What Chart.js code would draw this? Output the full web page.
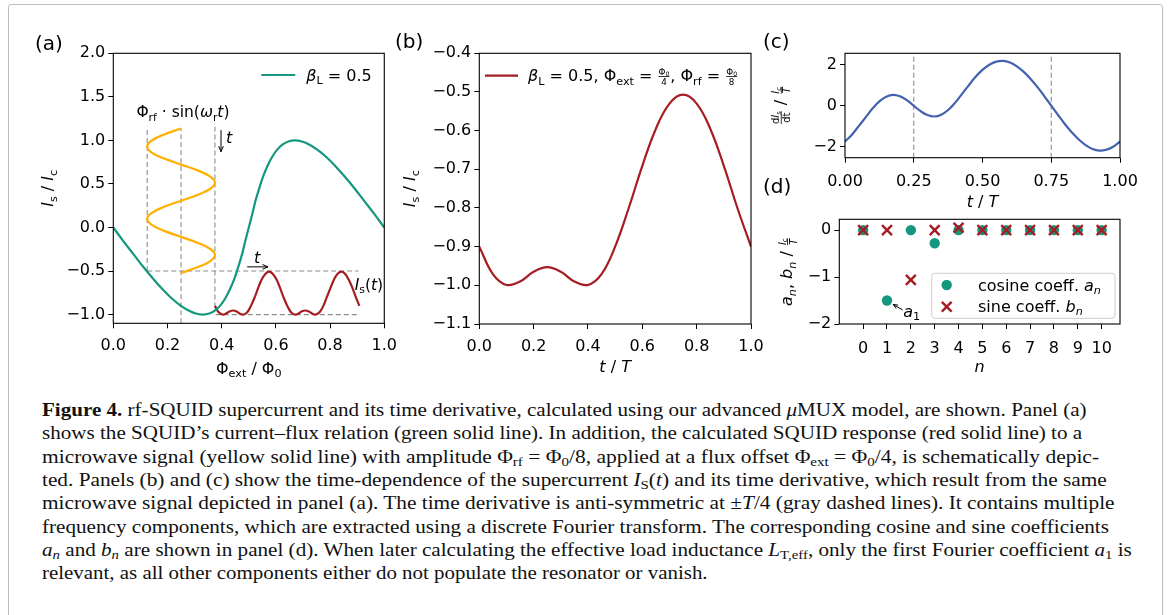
<!DOCTYPE html>
<html>
<head>
<meta charset="utf-8">
<script src="https://cdn.jsdelivr.net/npm/chart.js@4.4.0/dist/chart.umd.min.js"></script>
<style>
  body { margin: 0; background: #fff; width: 1168px; height: 615px; overflow: hidden; position: relative; }
  .frame { position: absolute; left: 8px; top: 4px; width: 1153px; height: 700px; border: 1px solid #bdbdbd; border-radius: 3px; }
  canvas { position: absolute; }
  .plabel { position: absolute; font: 20px "DejaVu Sans"; line-height: 20px; color: #000; }
  .cap { position: absolute; left: 42px; font: 19px "Liberation Serif"; line-height: 23px; white-space: nowrap; transform-origin: 0 0; color: #111; }
  .cap sub { font-size: 0.7em; vertical-align: -0.25em; line-height: 0; }
</style>
</head>
<body>
<div class="frame"></div>
<canvas id="chartA"></canvas>
<canvas id="chartB"></canvas>
<canvas id="chartC"></canvas>
<canvas id="chartD"></canvas>
<div class="plabel" style="left:35px;top:33px">(a)</div>
<div class="plabel" style="left:395px;top:31px">(b)</div>
<div class="plabel" style="left:763px;top:31px">(c)</div>
<div class="plabel" style="left:763px;top:176px">(d)</div>
<div id="caption"></div>
<script>
// ---------- data ----------
// (a) current-flux relation, beta_L = 0.5
const phiExt = [0, 0.037, 0.075, 0.111, 0.147, 0.181, 0.214, 0.246, 0.276, 0.304, 0.330, 0.354, 0.376, 0.396, 0.414, 0.431, 0.447, 0.461, 0.475, 0.487, 0.5,
  0.513, 0.525, 0.539, 0.553, 0.569, 0.586, 0.604, 0.624, 0.646, 0.670, 0.696, 0.724, 0.754, 0.786, 0.819, 0.853, 0.889, 0.925, 0.963, 1.0];
const currentA = [0, -0.156, -0.309, -0.454, -0.588, -0.707, -0.809, -0.891, -0.951, -0.988, -1.0, -0.988, -0.951, -0.891, -0.809, -0.707, -0.588, -0.454, -0.309, -0.156, 0,
  0.156, 0.309, 0.454, 0.588, 0.707, 0.809, 0.891, 0.951, 0.988, 1.0, 0.988, 0.951, 0.891, 0.809, 0.707, 0.588, 0.454, 0.309, 0.156, 0];

// (a) rf signal drawn vertically (yellow)
const rfX = [0.25, 0.188, 0.142, 0.125, 0.142, 0.188, 0.25, 0.313, 0.358, 0.375, 0.358, 0.313, 0.25, 0.188, 0.142, 0.125, 0.142, 0.188, 0.25, 0.313, 0.358, 0.375, 0.358, 0.313, 0.25];
const rfY = [1.137, 1.068, 0.999, 0.929, 0.860, 0.791, 0.722, 0.653, 0.584, 0.514, 0.445, 0.376, 0.307, 0.238, 0.168, 0.099, 0.030, -0.039, -0.108, -0.177, -0.247, -0.316, -0.385, -0.454, -0.523];

// (a) SQUID response I_s(t) drawn horizontally (red)
const respX = [0.375, 0.388, 0.402, 0.415, 0.428, 0.442, 0.455, 0.468, 0.482, 0.495, 0.508, 0.522, 0.535, 0.548, 0.562, 0.575, 0.588, 0.602, 0.615, 0.628, 0.642,
  0.655, 0.668, 0.682, 0.695, 0.708, 0.722, 0.735, 0.748, 0.762, 0.775, 0.788, 0.802, 0.815, 0.828, 0.842, 0.855, 0.868, 0.882, 0.895, 0.908];
const respY = [-0.900, -0.971, -0.999, -0.990, -0.965, -0.953, -0.965, -0.990, -0.999, -0.971, -0.900, -0.800, -0.691, -0.595, -0.530, -0.507, -0.530, -0.595, -0.691, -0.800, -0.900,
  -0.971, -0.999, -0.990, -0.965, -0.953, -0.965, -0.990, -0.999, -0.971, -0.900, -0.800, -0.691, -0.595, -0.530, -0.507, -0.530, -0.595, -0.691, -0.800, -0.900];

// (a) gray dashed guides [x0, y0, x1, y1]
const guidesA = [[0.125, -0.5, 0.125, 1.156], [0.25, -1.1, 0.25, 1.137], [0.375, -0.92, 0.375, 1.156], [0.125, -0.5, 0.905, -0.5], [0.378, -1.0, 0.91, -1.0]];

// (b) supercurrent over one period
const timeB = [0, 0.05, 0.10, 0.15, 0.20, 0.25, 0.30, 0.35, 0.40, 0.45, 0.50, 0.55, 0.60, 0.65, 0.70, 0.75, 0.80, 0.85, 0.90, 0.95, 1.0];
const currentB = [-0.900, -0.971, -0.999, -0.990, -0.965, -0.953, -0.965, -0.990, -0.999, -0.971, -0.900, -0.800, -0.691, -0.595, -0.530, -0.507, -0.530, -0.595, -0.691, -0.800, -0.900];

// (c) time derivative
const timeC = [0, 0.025, 0.05, 0.075, 0.10, 0.125, 0.15, 0.175, 0.20, 0.225, 0.25, 0.275, 0.30, 0.325, 0.35, 0.375, 0.40, 0.425, 0.45, 0.475, 0.50,
  0.525, 0.55, 0.575, 0.60, 0.625, 0.65, 0.675, 0.70, 0.725, 0.75, 0.775, 0.80, 0.825, 0.85, 0.875, 0.90, 0.925, 0.95, 0.975, 1.0];
const derivC = [-1.76, -1.42, -1.00, -0.57, -0.14, 0.21, 0.44, 0.53, 0.46, 0.27, 0.00, -0.27, -0.46, -0.53, -0.44, -0.21, 0.14, 0.57, 1.00, 1.42, 1.76,
  2.01, 2.16, 2.20, 2.12, 1.93, 1.66, 1.31, 0.91, 0.46, 0.00, -0.46, -0.91, -1.31, -1.66, -1.93, -2.12, -2.20, -2.16, -2.01, -1.76];
const guidesC = [0.25, 0.75];

// (d) Fourier coefficients
const harmonics = [0, 1, 2, 3, 4, 5, 6, 7, 8, 9, 10];
const cosCoeff = [0, -1.50, 0, -0.28, 0, 0, 0, 0, 0, 0, 0];
const sinCoeff = [0, 0, -1.06, 0, 0.05, 0, 0, 0, 0, 0, 0];

// tick values
const ticksA_x = [0, 0.2, 0.4, 0.6, 0.8, 1.0];
const ticksA_y = [-1.0, -0.5, 0, 0.5, 1.0, 1.5, 2.0];
const ticksB_y = [-1.1, -1.0, -0.9, -0.8, -0.7, -0.6, -0.5, -0.4];
const ticksC_x = [0, 0.25, 0.5, 0.75, 1.0];
const ticksC_y = [-2, 0, 2];
const ticksD_y = [-2, -1, 0];

// ---------- style ----------
const TEAL = '#14977e', RED = '#a51d22', GOLD = '#ffb000', BLUE = '#4262ad', GRAY = '#8c8c8c';
const FONT = '"DejaVu Sans", sans-serif';
const SUB = 0.7;

const zip = (xs, ys) => xs.map((x, i) => ({ x: x, y: ys[i] }));
const fmt = (v, d) => v.toFixed(d).replace('-', '\u2212');

// ---------- rich text (sub-scripts, italics, small fractions) ----------
function setFont(ctx, size, it) { ctx.font = (it ? 'italic ' : '') + size + 'px ' + FONT; }
function partW(ctx, p, size) {
  if (p.frac) {
    const fs = size * (p.k || 0.65);
    return Math.max(runW(ctx, p.frac[0], fs), runW(ctx, p.frac[1], fs)) + 2;
  }
  setFont(ctx, p.sub ? size * SUB : size, p.it);
  return ctx.measureText(p.t).width;
}
function runW(ctx, parts, size) { return parts.reduce((w, p) => w + partW(ctx, p, size), 0); }
function drawRun(ctx, parts, x, y, size) {
  ctx.textAlign = 'left'; ctx.textBaseline = 'alphabetic';
  parts.forEach(p => {
    const w = partW(ctx, p, size);
    if (p.frac) {
      const fs = size * (p.k || 0.65);
      const ax = y - size * 0.3;
      const wn = runW(ctx, p.frac[0], fs), wd = runW(ctx, p.frac[1], fs);
      drawRun(ctx, p.frac[0], x + (w - wn) / 2, ax - 2, fs);
      drawRun(ctx, p.frac[1], x + (w - wd) / 2, ax + 2 + fs * 0.73, fs);
      ctx.fillRect(x + 1, ax - 0.4, w - 2, 0.8);
    } else {
      setFont(ctx, p.sub ? size * SUB : size, p.it);
      ctx.fillText(p.t, x, p.sub ? y + size * 0.2 : y);
    }
    x += w;
  });
}
function drawRich(ctx, parts, x, y, size, align) {
  const w = runW(ctx, parts, size);
  const x0 = align === 'left' ? x : x - w / 2;
  drawRun(ctx, parts, x0, y, size);
}
function drawRot(ctx, parts, x, y, size) {
  ctx.save(); ctx.translate(x, y); ctx.rotate(-Math.PI / 2);
  drawRich(ctx, parts, 0, 0, size);
  ctx.restore();
}

const xTitleA = [{ t: '\u03a6' }, { t: 'ext', sub: 1 }, { t: ' / \u03a6' }, { t: '0', sub: 1 }];
const yTitleA = [{ t: 'I', it: 1 }, { t: 's', sub: 1 }, { t: ' / ' }, { t: 'I', it: 1 }, { t: 'c', sub: 1 }];
const xTitleT = [{ t: 't', it: 1 }, { t: ' / ' }, { t: 'T', it: 1 }];
const fracIcT = { frac: [[{ t: 'I', it: 1 }, { t: 'c', sub: 1 }], [{ t: 'T', it: 1 }]], k: 0.62 };
const yTitleC = [{ frac: [[{ t: 'd' }, { t: 'I', it: 1 }, { t: 's', sub: 1 }], [{ t: 'dt' }]], k: 0.62 }, { t: ' / ' }, fracIcT];
const yTitleD = [{ t: 'a', it: 1 }, { t: 'n', it: 1, sub: 1 }, { t: ', ' }, { t: 'b', it: 1 }, { t: 'n', it: 1, sub: 1 }, { t: ' / ' }, fracIcT];
const xTitleD = [{ t: 'n', it: 1 }];
const legendA = [{ t: '\u03b2', it: 1 }, { t: 'L', sub: 1 }, { t: ' = 0.5' }];
const legendB = [{ t: '\u03b2', it: 1 }, { t: 'L', sub: 1 }, { t: ' = 0.5, \u03a6' }, { t: 'ext', sub: 1 }, { t: ' = ' },
  { frac: [[{ t: '\u03a6' }, { t: '0', sub: 1 }], [{ t: '4' }]], k: 0.55 }, { t: ', \u03a6' }, { t: 'rf', sub: 1 }, { t: ' = ' },
  { frac: [[{ t: '\u03a6' }, { t: '0', sub: 1 }], [{ t: '8' }]], k: 0.55 }];
const legendD = [
  [{ t: 'cosine coeff. ' }, { t: 'a', it: 1 }, { t: 'n', it: 1, sub: 1 }],
  [{ t: 'sine coeff. ' }, { t: 'b', it: 1 }, { t: 'n', it: 1, sub: 1 }]
];
const rfLabel = [{ t: '\u03a6' }, { t: 'rf', sub: 1 }, { t: ' \u00b7 sin(' }, { t: '\u03c9', it: 1 }, { t: 'r', sub: 1 }, { t: 't', it: 1 }, { t: ')' }];
const respLabel = [{ t: 'I', it: 1 }, { t: 's', sub: 1 }, { t: '(' }, { t: 't', it: 1 }, { t: ')' }];
const a1Label = [{ t: 'a', it: 1 }, { t: '1', sub: 1 }];

// ---------- helpers ----------
function toPx(c, x, y) { return [c.scales.x.getPixelForValue(x), c.scales.y.getPixelForValue(y)]; }
function drawFrame(c) {
  const a = c.chartArea, ctx = c.ctx;
  ctx.save(); ctx.strokeStyle = '#000'; ctx.lineWidth = 1.1;
  ctx.strokeRect(a.left, a.top, a.right - a.left, a.bottom - a.top);
  ctx.restore();
}
function arrow(ctx, x0, y0, x1, y1, head) {
  ctx.beginPath(); ctx.moveTo(x0, y0); ctx.lineTo(x1, y1); ctx.stroke();
  const ang = Math.atan2(y1 - y0, x1 - x0);
  ctx.beginPath();
  ctx.moveTo(x1 - head * Math.cos(ang - 0.4), y1 - head * Math.sin(ang - 0.4));
  ctx.lineTo(x1, y1);
  ctx.lineTo(x1 - head * Math.cos(ang + 0.4), y1 - head * Math.sin(ang + 0.4));
  ctx.stroke();
}
function legendLine(ctx, x0, x1, y, color) {
  ctx.save(); ctx.strokeStyle = color; ctx.lineWidth = 2.2;
  ctx.beginPath(); ctx.moveTo(x0, y); ctx.lineTo(x1, y); ctx.stroke(); ctx.restore();
}

const YW = 64, XH = 30;
function scaleOpts(min, max, ticks, dec, isX, pad) {
  return {
    type: 'linear', min: min, max: max,
    afterBuildTicks: s => { s.ticks = ticks.map(v => ({ value: v })); },
    afterFit: s => { if (isX) s.height = XH; else s.width = YW; },
    grid: { display: true, drawOnChartArea: false, drawTicks: true, tickLength: 5, color: '#000', lineWidth: 1 },
    border: { display: false },
    ticks: { font: { family: FONT, size: 16 }, color: '#000', padding: pad, maxRotation: 0, autoSkip: false, callback: v => fmt(v, dec) }
  };
}
function makeChart(id, box, area, datasets, xs, ys, deco) {
  const cv = document.getElementById(id);
  cv.width = box.w; cv.height = box.h;
  cv.style.left = box.x + 'px'; cv.style.top = box.y + 'px';
  return new Chart(cv, {
    type: 'scatter',
    data: { datasets: datasets },
    options: {
      responsive: false, animation: false, events: [],
      layout: { padding: { left: area.l - box.x - YW, top: area.t - box.y, right: box.x + box.w - area.r, bottom: box.y + box.h - area.b - XH } },
      plugins: { legend: { display: false }, tooltip: { enabled: false } },
      elements: { point: { radius: 0 } },
      scales: { x: xs, y: ys }
    },
    plugins: [{ id: 'deco_' + id, afterDraw: c => deco(c) }]
  });
}
const curve = (data, color) => ({ data: data, showLine: true, borderColor: color, borderWidth: 2.2, tension: 0.4, pointRadius: 0, fill: false });
const dashed = (data) => ({ data: data, showLine: true, borderColor: GRAY, borderWidth: 1.1, borderDash: [5, 3], pointRadius: 0, tension: 0 });

// ---------- panel (a) ----------
makeChart('chartA', { x: 20, y: 28, w: 385, h: 360 }, { l: 113.3, t: 53.3, r: 386, b: 323.3 },
  [curve(zip(phiExt, currentA), TEAL), curve(zip(rfX, rfY), GOLD), curve(zip(respX, respY), RED)]
    .concat(guidesA.map(g => dashed([{ x: g[0], y: g[1] }, { x: g[2], y: g[3] }]))),
  scaleOpts(0, 1, ticksA_x, 1, true, 8), scaleOpts(-1.1, 2.0, ticksA_y, 1, false, 3),
  c => {
    const ctx = c.ctx, a = c.chartArea;
    drawFrame(c);
    ctx.save(); ctx.fillStyle = '#000'; ctx.strokeStyle = '#000'; ctx.lineWidth = 1;
    drawRich(ctx, xTitleA, (a.left + a.right) / 2, a.bottom + 50.5, 16);
    drawRot(ctx, yTitleA, a.left - 60, (a.top + a.bottom) / 2, 16);
    legendLine(ctx, a.right - 123, a.right - 89, a.top + 21.7, TEAL);
    drawRich(ctx, legendA, a.right - 78, a.top + 27.5, 16, 'left');
    let p = toPx(c, 0.257, 1.263); drawRich(ctx, rfLabel, p[0], p[1], 15.5);
    let p0 = toPx(c, 0.3975, 1.118), p1 = toPx(c, 0.3975, 0.870); arrow(ctx, p0[0], p0[1], p1[0], p1[1], 6);
    p = toPx(c, 0.416, 0.967); drawRich(ctx, [{ t: 't', it: 1 }], p[0], p[1], 16, 'left');
    p0 = toPx(c, 0.494, -0.452); p1 = toPx(c, 0.571, -0.452); arrow(ctx, p0[0], p0[1], p1[0], p1[1], 6);
    p = toPx(c, 0.531, -0.408); drawRich(ctx, [{ t: 't', it: 1 }], p[0], p[1], 16);
    p = toPx(c, 0.891, -0.718); drawRich(ctx, respLabel, p[0], p[1], 15.5, 'left');
    ctx.restore();
  });

// ---------- panel (b) ----------
makeChart('chartB', { x: 385, y: 28, w: 390, h: 360 }, { l: 479.3, t: 53.3, r: 751, b: 324 },
  [curve(zip(timeB, currentB), RED)],
  scaleOpts(0, 1, ticksA_x, 1, true, 8), scaleOpts(-1.1, -0.4, ticksB_y, 1, false, 3),
  c => {
    const ctx = c.ctx, a = c.chartArea;
    drawFrame(c);
    ctx.save(); ctx.fillStyle = '#000';
    drawRich(ctx, xTitleT, (a.left + a.right) / 2, a.bottom + 48, 16);
    drawRot(ctx, yTitleA, a.left - 64, (a.top + a.bottom) / 2, 16);
    legendLine(ctx, a.left + 5.7, a.left + 38.7, a.top + 22.4, RED);
    drawRich(ctx, legendB, a.left + 48.7, a.top + 28, 16, 'left');
    ctx.restore();
  });

// ---------- panel (c) ----------
makeChart('chartC', { x: 755, y: 28, w: 400, h: 187 }, { l: 845, t: 53.3, r: 1120, b: 157.7 },
  [curve(zip(timeC, derivC), BLUE)].concat(guidesC.map(g => dashed([{ x: g, y: -2.55 }, { x: g, y: 2.57 }]))),
  scaleOpts(0, 1, ticksC_x, 2, true, 10), scaleOpts(-2.55, 2.57, ticksC_y, 0, false, 3),
  c => {
    const ctx = c.ctx, a = c.chartArea;
    drawFrame(c);
    ctx.save(); ctx.fillStyle = '#000';
    drawRich(ctx, xTitleT, (a.left + a.right) / 2, a.bottom + 49.5, 16);
    drawRot(ctx, yTitleC, a.left - 59, (a.top + a.bottom) / 2, 16);
    ctx.restore();
  });

// ---------- panel (d) ----------
makeChart('chartD', { x: 755, y: 205, w: 400, h: 175 }, { l: 839.3, t: 219.3, r: 1120, b: 324 },
  [
    { data: zip(harmonics, sinCoeff), pointStyle: 'crossRot', pointRadius: 7, pointBorderWidth: 2.4, pointBorderColor: RED, pointBackgroundColor: RED },
    { data: zip(harmonics, cosCoeff), pointStyle: 'circle', pointRadius: 5.2, pointBorderWidth: 0, pointBackgroundColor: TEAL, pointBorderColor: TEAL }
  ],
  scaleOpts(-1, 10.77, harmonics, 0, true, 10), scaleOpts(-2.0, 0.23, ticksD_y, 0, false, 3),
  c => {
    const ctx = c.ctx, a = c.chartArea;
    drawFrame(c);
    ctx.save(); ctx.fillStyle = '#000'; ctx.strokeStyle = '#000'; ctx.lineWidth = 1;
    drawRich(ctx, xTitleD, (a.left + a.right) / 2, a.bottom + 47.5, 16);
    drawRot(ctx, yTitleD, a.left - 47, (a.top + a.bottom) / 2, 16);
    // annotation a1
    let p0 = toPx(c, 1.655, -1.70), p1 = toPx(c, 1.26, -1.585); arrow(ctx, p0[0], p0[1], p1[0], p1[1], 5);
    let p = toPx(c, 1.68, -1.85); drawRich(ctx, a1Label, p[0], p[1], 16, 'left');
    // legend box
    const bw = 183.3, bh = 45, bx = a.right - 5 - bw, by = a.bottom - 5.7 - bh;
    ctx.fillStyle = 'rgba(255,255,255,0.8)'; ctx.strokeStyle = '#cccccc';
    ctx.beginPath(); ctx.roundRect(bx, by, bw, bh, 3); ctx.fill(); ctx.stroke();
    ctx.fillStyle = TEAL; ctx.beginPath(); ctx.arc(bx + 15, by + 11.7, 5.2, 0, Math.PI * 2); ctx.fill();
    ctx.strokeStyle = RED; ctx.lineWidth = 2.4; const r = 4.9, cy = by + 33.4;
    ctx.beginPath(); ctx.moveTo(bx + 15 - r, cy - r); ctx.lineTo(bx + 15 + r, cy + r); ctx.moveTo(bx + 15 - r, cy + r); ctx.lineTo(bx + 15 + r, cy - r); ctx.stroke();
    ctx.fillStyle = '#000';
    drawRich(ctx, legendD[0], bx + 46.3, by + 17.2, 16, 'left');
    drawRich(ctx, legendD[1], bx + 46.3, by + 38.9, 16, 'left');
    ctx.restore();
  });

// ---------- caption ----------
const captionLines = [
  '<b>Figure 4.</b> rf-SQUID supercurrent and its time derivative, calculated using our advanced <i>\u03bc</i>MUX model, are shown. Panel (a)',
  'shows the SQUID\u2019s current\u2013flux relation (green solid line). In addition, the calculated SQUID response (red solid line) to a',
  'microwave signal (yellow solid line) with amplitude \u03a6<sub>rf</sub> = \u03a6<sub>0</sub>/8, applied at a flux offset \u03a6<sub>ext</sub> = \u03a6<sub>0</sub>/4, is schematically depic-',
  'ted. Panels (b) and (c) show the time-dependence of the supercurrent <i>I</i><sub>S</sub>(<i>t</i>) and its time derivative, which result from the same',
  'microwave signal depicted in panel (a). The time derivative is anti-symmetric at \u00b1<i>T</i>/4 (gray dashed lines). It contains multiple',
  'frequency components, which are extracted using a discrete Fourier transform. The corresponding cosine and sine coefficients',
  '<i>a<sub>n</sub></i> and <i>b<sub>n</sub></i> are shown in panel (d). When later calculating the effective load inductance <i>L</i><sub>T,eff</sub>, only the first Fourier coefficient <i>a</i><sub>1</sub> is',
  'relevant, as all other components either do not populate the resonator or vanish.'
];
const captionEnds = [1087, 1082, 1099, 1107, 1115, 1109, 1132, 708];
const capBox = document.getElementById('caption');
captionLines.forEach((html, i) => {
  const el = document.createElement('div');
  el.className = 'cap';
  el.innerHTML = html;
  el.style.top = (416 + 23.3 * i - 18) + 'px';
  capBox.appendChild(el);
  const w = el.offsetWidth;
  el.style.transform = 'scaleX(' + ((captionEnds[i] - 42) / w).toFixed(4) + ')';
});
</script>
</body>
</html>
